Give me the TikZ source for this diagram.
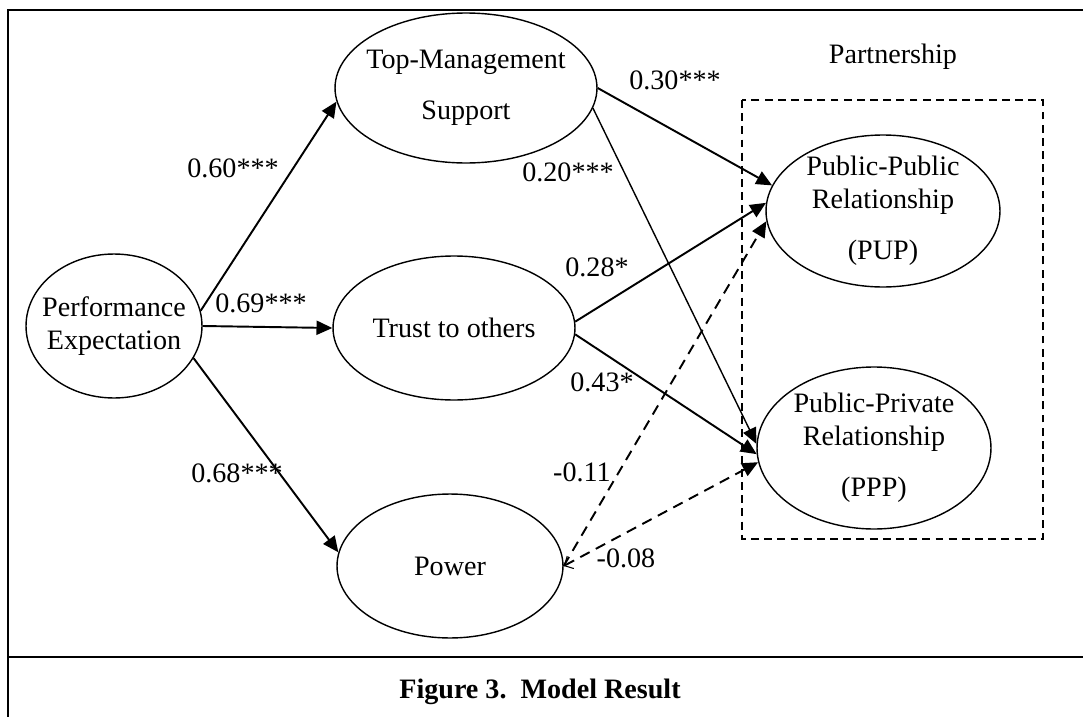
\documentclass[tikz,border=0pt]{standalone}
\usepackage{fontspec}
\setmainfont{Liberation Serif}
\usetikzlibrary{shapes,positioning,arrows.meta}
\tikzset{ell/.style={ellipse,draw,line width=0.8pt,inner sep=-15pt,align=center}}
\tikzset{coef/.style={inner sep=0pt}}

\begin{document}
\begin{tikzpicture}[x=0.02cm,y=-0.02cm,>={Triangle[length=9pt,width=8pt]},font=\fontsize{16}{19}\selectfont]
    \useasboundingbox (0,0) rectangle (1083,717);
    \clip (0,0) rectangle (1083,717);

    \draw [line width=1.2pt] (1100,10) -- (8,10) -- (8,740);
    \draw [line width=1.2pt] (8,657) -- (1100,657);
    \node (cap) at (540,692) {\textbf{Figure 3.\ \ Model Result}};

    \node[ell,minimum width=3.52cm,minimum height=2.88cm] (pe) at (114,326) {Performance\\Expectation};
    \node[ell,minimum width=5.24cm,minimum height=3cm] (tms) at (466,88) {Top-Management\\[10pt]Support};
    \node[ell,minimum width=4.84cm,minimum height=2.88cm] (trust) at (454,328) {Trust to others};
    \node[ell,minimum width=4.52cm,minimum height=2.88cm] (power) at (450,566) {Power};
    \node[ell,minimum width=4.68cm,minimum height=3.04cm] (pup) at (883,211) {Public-Public\\Relationship\\[10pt](PUP)};
    \node[ell,minimum width=4.68cm,minimum height=3.24cm] (ppp) at (874,448) {Public-Private\\Relationship\\[10pt](PPP)};

    \node (part) at (893,57) {Partnership};
    \draw [line width=0.8pt,dash pattern=on 4.5pt off 3pt] (742,100) rectangle (1043,539);

    \node[coef] (c1) at (233,168) {0.60***};
    \node[coef] (c2) at (261,303) {0.69***};
    \node[coef] (c3) at (237,473) {0.68***};
    \node[coef] (c4) at (675,80) {0.30***};
    \node[coef] (c5) at (568,172) {0.20***};
    \node[coef] (c6) at (597,267) {0.28*};
    \node[coef] (c7) at (602,382) {0.43*};
    \node[coef] (c8) at (582,472) {-0.11};
    \node[coef] (c9) at (626,558) {-0.08};

    \draw [->,line width=1.1pt] (pe.10) to []node[]{} (tms.186);
    \draw [->,line width=1.1pt] (pe.east) to []node[]{} (trust.west);
    \draw [->,line width=1.1pt] (pe.-22) to []node[]{} (power.173);
    \draw [->,line width=1.1pt] (tms.east) to []node[]{} (pup.167);
    \draw [->,line width=0.8pt] (tms.-9) to []node[]{} (ppp.178);
    \draw [->,line width=1.1pt] (trust.3) to []node[]{} (pup.176);
    \draw [->,line width=1.1pt] (trust.-3) to []node[]{} (ppp.183);
    \draw [->,line width=1.1pt,dash pattern=on 6pt off 4pt] (power.east) to []node[]{} (pup.185);
    \draw [{Straight Barb[length=4pt,width=8pt,line width=0.6pt]}->,line width=1.1pt,dash pattern=on 6pt off 4pt] (power.east) to []node[]{} (ppp.187);
\end{tikzpicture}
\end{document}
